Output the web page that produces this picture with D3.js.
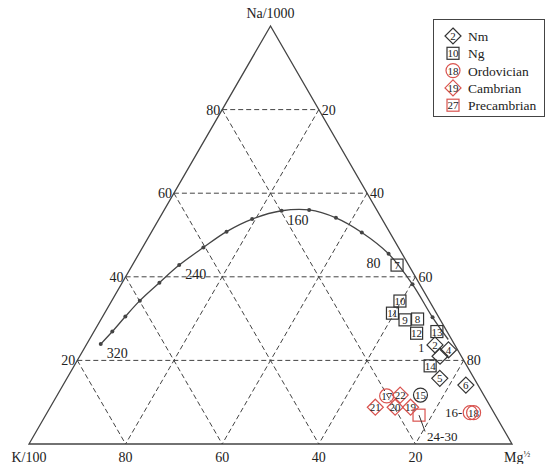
<!DOCTYPE html>
<html>
<head>
<meta charset="utf-8">
<script src="https://cdn.jsdelivr.net/npm/d3@7"></script>
<style>
  body { margin: 0; background: #fff; }
  svg text { font-family: "Liberation Serif", "DejaVu Serif", serif; fill: #222; }
</style>
</head>
<body>
<svg id="container" width="546" height="464"></svg>
<script>
// ternary values are percentages: na (top), k (bottom left), mg (bottom right)
const gridSteps = [20, 40, 60, 80];

// full equilibrium line, dots
const curveNa = [23.9, 26.9, 30.5, 34.3, 38.6, 42.8, 47.0, 50.8, 53.8, 55.8, 56.0, 54.1, 50.6, 45.5, 38.2, 30.3, 25.0];
const curveMg = [2.9, 3.8, 4.7, 5.8, 7.7, 9.7, 12.6, 15.5, 19.3, 24.4, 30.0, 36.5, 43.6, 51.7, 60.3, 68.4, 74.3];
const curveTemp = [320, null, null, null, null, 240, null, null, null, 160, null, null, null, 80, null, null, null];
const curveDot = [1, 1, 1, 1, 1, 1, 1, 1, 1, 1, 1, 1, 1, 1, 1, 1, 0];

// samples
const sampleId = ['7', '10', '11', '9', '8', '12', '13', '2', '', '4', '14', '5', '6',
  '17', '22', '15', '21', '20', '19', '', '18', ''];
const sampleType = ['Ng', 'Ng', 'Ng', 'Ng', 'Ng', 'Ng', 'Ng', 'Nm', 'Nm', 'Nm', 'Ng', 'Nm', 'Nm',
  'Ord', 'Cam', 'Ord15', 'Cam', 'Cam', 'Cam', 'Pre', 'Ord', 'Ord'];
const sampleNa = [42.8, 34.2, 31.3, 29.7, 29.9, 26.5, 26.9, 23.7, 21.0, 22.5, 18.7, 15.7, 14.1,
  11.5, 11.7, 11.7, 8.8, 8.8, 8.8, 6.9, 7.5, 7.5];
const sampleMg = [54.8, 59.7, 59.6, 63.0, 65.5, 67.0, 71.0, 72.2, 74.6, 75.6, 73.7, 77.2, 83.4,
  68.3, 71.0, 75.2, 67.3, 71.4, 74.6, 77.3, 88.3, 87.6];

const legendLabels = ['Nm', 'Ng', 'Ordovician', 'Cambrian', 'Precambrian'];
const legendIds = ['2', '10', '18', '19', '27'];
const legendTypes = ['Nm', 'Ng', 'Ord', 'Cam', 'Pre'];

const svg = d3.select('#container');
const RED = '#d9534f';
const INK = '#333';

const x = d3.scaleLinear().domain([0, 100]).range([29, 512]);
const y = d3.scaleLinear().domain([0, 100]).range([444, 26]);
const px = (na, mg) => [x(mg + na / 2), y(na)];

// dashed grid
const grid = svg.append('g').attr('class', 'grid');
gridSteps.forEach(v => {
  const segs = [
    [px(v, 0), px(v, 100 - v)],          // constant na
    [px(100 - v, 0), px(0, 100 - v)],    // constant k
    [px(100 - v, v), px(0, v)]           // constant mg
  ];
  segs.forEach(s => {
    grid.append('line')
      .attr('x1', s[0][0]).attr('y1', s[0][1])
      .attr('x2', s[1][0]).attr('y2', s[1][1])
      .attr('stroke', '#444').attr('stroke-width', 1)
      .attr('stroke-dasharray', '5,3');
  });
});

// frame
const corners = [px(100, 0), px(0, 0), px(0, 100)];
svg.append('path')
  .attr('d', d3.line()(corners) + 'Z')
  .attr('fill', 'none').attr('stroke', '#444').attr('stroke-width', 1.3);

// tick labels
const ticks = svg.append('g').style('font-size', '14px');
gridSteps.forEach(v => {
  const l = px(v, 0);
  ticks.append('text').attr('x', l[0] - 2).attr('y', l[1] + 5)
    .attr('text-anchor', 'end').text(v);
  const r = px(v, 100 - v);
  ticks.append('text').attr('x', r[0] + 3).attr('y', r[1] + 5)
    .text(100 - v);
  const b = px(0, 100 - v);
  ticks.append('text').attr('x', b[0]).attr('y', b[1] + 18)
    .attr('text-anchor', 'middle').text(v);
});
ticks.append('text').attr('x', corners[0][0]).attr('y', corners[0][1] - 8)
  .attr('text-anchor', 'middle').text('Na/1000');
ticks.append('text').attr('x', corners[1][0]).attr('y', corners[1][1] + 18)
  .attr('text-anchor', 'middle').text('K/100');
const mgLab = ticks.append('text').attr('x', corners[2][0] - 8).attr('y', corners[2][1] + 18);
mgLab.append('tspan').text('Mg');
mgLab.append('tspan').attr('dy', -5).style('font-size', '9px').text('½');

// equilibrium curve
const curvePts = curveNa.map((na, i) => px(na, curveMg[i]));
svg.append('path')
  .attr('d', d3.line().curve(d3.curveCatmullRom)(curvePts))
  .attr('fill', 'none').attr('stroke', '#444').attr('stroke-width', 1.3);
svg.append('g').selectAll('circle')
  .data(curvePts.filter((p, i) => curveDot[i]))
  .join('circle')
  .attr('cx', d => d[0]).attr('cy', d => d[1]).attr('r', 2)
  .attr('fill', '#444');
curvePts.forEach((p, i) => {
  if (curveTemp[i] == null) return;
  const t = curveTemp[i];
  svg.append('text')
    .attr('x', t == 80 ? p[0] - 8 : p[0] + 6)
    .attr('y', p[1] + 14)
    .attr('text-anchor', t == 80 ? 'end' : 'start')
    .style('font-size', '14px').text(t);
});

// marker drawing
function marker(g, type, cx, cy, label) {
  const red = ['Ord', 'Cam', 'Pre'].includes(type);
  const col = red ? RED : INK;
  if (type == 'Nm' || type == 'Cam') {
    const s = 8;
    g.append('path')
      .attr('d', `M${cx},${cy - s}L${cx + s},${cy}L${cx},${cy + s}L${cx - s},${cy}Z`)
      .attr('fill', 'none').attr('stroke', col).attr('stroke-width', 1.2);
  } else if (type == 'Ng' || type == 'Pre') {
    g.append('rect')
      .attr('x', cx - 6).attr('y', cy - 6).attr('width', 12).attr('height', 12)
      .attr('fill', 'none').attr('stroke', col).attr('stroke-width', 1.2);
  } else {
    g.append('circle')
      .attr('cx', cx).attr('cy', cy).attr('r', 7)
      .attr('fill', 'none').attr('stroke', type == 'Ord15' ? INK : col).attr('stroke-width', 1.2);
  }
  if (label) {
    g.append('text').attr('x', cx).attr('y', cy + 4)
      .attr('text-anchor', 'middle').style('font-size', '11px')
      .text(label);
  }
}

const pts = svg.append('g').attr('class', 'samples');
sampleNa.forEach((na, i) => {
  const p = px(na, sampleMg[i]);
  marker(pts, sampleType[i], p[0], p[1], sampleId[i]);
});

// extra annotations
const p1 = px(23.0, 71.8);
svg.append('text').attr('x', p1[0] - 7).attr('y', p1[1] + 4)
  .style('font-size', '12px').attr('text-anchor', 'end').text('1');
const p16 = px(7.5, 87.6);
svg.append('text').attr('x', p16[0] - 8).attr('y', p16[1] + 4)
  .style('font-size', '13px').attr('text-anchor', 'end').text('16-');
const pPre = px(6.9, 77.3);
const pLbl = px(3.0, 80.5);
svg.append('line')
  .attr('x1', pPre[0]).attr('y1', pPre[1])
  .attr('x2', pLbl[0]).attr('y2', pLbl[1])
  .attr('stroke', INK).attr('stroke-width', 1);
svg.append('text').attr('x', pLbl[0] + 2).attr('y', pLbl[1] + 10)
  .style('font-size', '13px').text('24-30');

// legend
const lg = svg.append('g').attr('class', 'legend');
lg.append('rect').attr('x', 433.5).attr('y', 19.5).attr('width', 111).attr('height', 97)
  .attr('fill', '#fff').attr('stroke', '#444').attr('stroke-width', 1);
legendLabels.forEach((name, i) => {
  const cy = 36 + i * 17.3;
  marker(lg, legendTypes[i], 453, cy, legendIds[i]);
  lg.append('text').attr('x', 468).attr('y', cy + 5)
    .style('font-size', '13.5px').text(name);
});
</script>
</body>
</html>
